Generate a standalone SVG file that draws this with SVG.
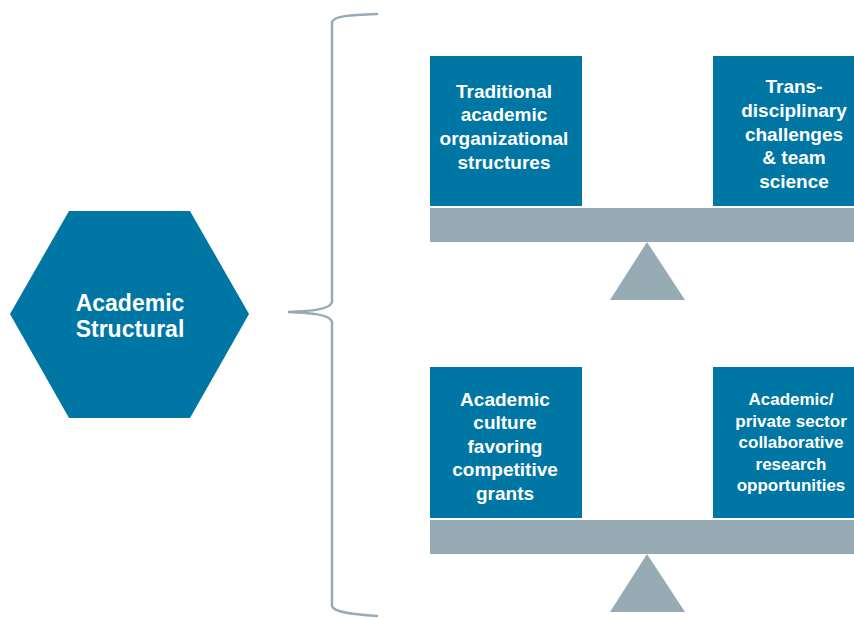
<svg xmlns="http://www.w3.org/2000/svg" width="854" height="618" viewBox="0 0 854 618">
<style>
.blue{fill:#0076A4}
.gray{fill:#97ABB5}
.t{font-family:"Liberation Sans",Arial,sans-serif;font-weight:bold;fill:#fff;text-anchor:middle}
.f19{font-size:19px}
.f17{font-size:17px}
.f23{font-size:23px}
.br{fill:none;stroke:#97ABB5;stroke-width:2.5;stroke-linecap:round}
</style>
<rect width="854" height="618" fill="#fff"/>
<g id="hexagon">
<polygon class="blue" points="10,314 69,211 190,211 249,314 190,418 69,418"/>
<text class="t f23" x="130" y="311">Academic</text>
<text class="t f23" x="130" y="337">Structural</text>
</g>
<g id="connectors">
<path class="br" d="M377,14 C350,15 334,16 332,22 L332,302 C330,310 310,311 288,312 C310,313 330,314 332,322 L332,606 C334,612 350,614 377,616"/>
</g>
<g id="scale-top">
<rect class="gray" x="430" y="208" width="424" height="34"/>
<polygon class="gray" points="647,242 610,300 685,300"/>
</g>
<g id="box-traditional">
<rect class="blue" x="430" y="56" width="152" height="150"/>
<text class="t f19" x="504" y="97.5">Traditional</text>
<text class="t f19" x="504" y="121">academic</text>
<text class="t f19" x="504" y="145">organizational</text>
<text class="t f19" x="504" y="169">structures</text>
</g>
<g id="box-trans">
<rect class="blue" x="713" y="56" width="141" height="150"/>
<text class="t f19" x="794" y="93">Trans-</text>
<text class="t f19" x="794" y="116.5">disciplinary</text>
<text class="t f19" x="794" y="140.5">challenges</text>
<text class="t f19" x="794" y="164">&amp; team</text>
<text class="t f19" x="794" y="188">science</text>
</g>
<g id="scale-bottom">
<rect class="gray" x="430" y="520" width="424" height="34"/>
<polygon class="gray" points="647,554 610,612 685,612"/>
</g>
<g id="box-culture">
<rect class="blue" x="430" y="367" width="152" height="151"/>
<text class="t f19" x="505" y="405.5">Academic</text>
<text class="t f19" x="505" y="429">culture</text>
<text class="t f19" x="505" y="452.5">favoring</text>
<text class="t f19" x="505" y="476">competitive</text>
<text class="t f19" x="505" y="499.5">grants</text>
</g>
<g id="box-private">
<rect class="blue" x="713" y="367" width="141" height="151"/>
<text class="t f17" x="791" y="405">Academic/</text>
<text class="t f17" x="791" y="426.5">private sector</text>
<text class="t f17" x="791" y="448">collaborative</text>
<text class="t f17" x="791" y="469.5">research</text>
<text class="t f17" x="791" y="491">opportunities</text>
</g>
</svg>
